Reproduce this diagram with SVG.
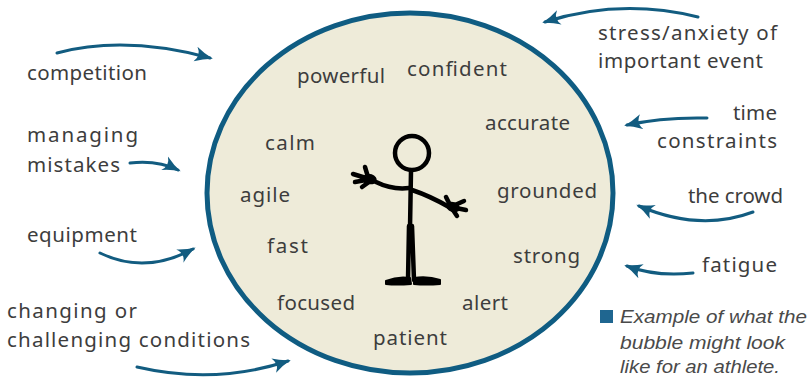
<svg xmlns="http://www.w3.org/2000/svg" width="811" height="377" viewBox="0 0 811 377">
<defs>
<marker id="ah" viewBox="0 0 12 10" refX="10" refY="5" markerWidth="6" markerHeight="5.5" orient="auto" markerUnits="strokeWidth">
<path d="M0,0 Q6,3.5 12,5 Q6,6.5 0,10 Q4,5 0,0 z" fill="#125C80"/>
</marker>
<style>
.hw{font-family:"Noto Sans","Liberation Sans",sans-serif;font-size:20.5px;fill:#3d3d3d}
.cap{font-family:"Liberation Sans",Arial,sans-serif;font-style:italic;font-size:19px;fill:#4a4a4a}
.arr{fill:none;stroke:#125C80;stroke-width:3;stroke-linecap:round;marker-end:url(#ah)}
.fig{fill:none;stroke:#000;stroke-width:4.5;stroke-linecap:round;stroke-linejoin:round}
</style>
</defs>
<rect width="811" height="377" fill="#fff"/>
<g id="bubble">
<ellipse cx="410" cy="193" rx="203" ry="180" fill="#EEEBD9" stroke="#0F5C82" stroke-width="5"/>
<text class="hw" x="297" y="83" textLength="88" lengthAdjust="spacing">powerful</text>
<text class="hw" x="407" y="76" textLength="100" lengthAdjust="spacing">confident</text>
<text class="hw" x="485" y="130" textLength="85" lengthAdjust="spacing">accurate</text>
<text class="hw" x="265" y="150" textLength="50" lengthAdjust="spacing">calm</text>
<text class="hw" x="240" y="202" textLength="50" lengthAdjust="spacing">agile</text>
<text class="hw" x="497" y="198" textLength="100" lengthAdjust="spacing">grounded</text>
<text class="hw" x="267" y="253" textLength="41" lengthAdjust="spacing">fast</text>
<text class="hw" x="513" y="263" textLength="67" lengthAdjust="spacing">strong</text>
<text class="hw" x="277" y="310" textLength="78" lengthAdjust="spacing">focused</text>
<text class="hw" x="462" y="310" textLength="46" lengthAdjust="spacing">alert</text>
<text class="hw" x="373" y="345" textLength="74" lengthAdjust="spacing">patient</text>
</g>
<g id="figure">
<circle cx="412" cy="153" r="17" class="fig"/>
<path class="fig" d="M411,171 L410,228"/>
<path class="fig" d="M409,226 L408,280 M412,226 L414,280"/>
<path d="M386,281 Q398,276 410,278 L411,284 Q396,285 386,284 z" fill="#000" stroke="#000" stroke-width="2" stroke-linejoin="round"/>
<path d="M414,278 Q428,276 440,280 L440,284 Q426,285 414,284 z" fill="#000" stroke="#000" stroke-width="2" stroke-linejoin="round"/>
<path class="fig" d="M409,188 Q392,190 376,182"/>
<path class="fig" d="M412,190 Q430,196 449,207"/>
<ellipse cx="370" cy="179" rx="7" ry="5" transform="rotate(20 370 179)" fill="#000"/>
<ellipse cx="453" cy="207" rx="7" ry="5" transform="rotate(20 453 207)" fill="#000"/>
<g class="fig" stroke-width="3.5">
<path d="M368,177 L365,167 M366,178 L353,174 M366,180 L355,182 M369,182 L362,187"/>
<path d="M450,205 L446,197 M455,205 L464,201 M456,208 L466,210 M453,210 L457,216"/>
</g>
</g>
<g id="labels">
<text class="hw" x="27" y="80" textLength="120" lengthAdjust="spacing">competition</text>
<text class="hw" x="27" y="142" textLength="111" lengthAdjust="spacing">managing</text>
<text class="hw" x="27" y="172" textLength="93" lengthAdjust="spacing">mistakes</text>
<text class="hw" x="27" y="242" textLength="110" lengthAdjust="spacing">equipment</text>
<text class="hw" x="7" y="318" textLength="130" lengthAdjust="spacing">changing or</text>
<text class="hw" x="7" y="347" textLength="243" lengthAdjust="spacing">challenging conditions</text>
<text class="hw" x="598" y="40" textLength="179" lengthAdjust="spacing">stress/anxiety of</text>
<text class="hw" x="598" y="68" textLength="165" lengthAdjust="spacing">important event</text>
<text class="hw" x="733" y="120" textLength="44" lengthAdjust="spacing">time</text>
<text class="hw" x="657" y="148" textLength="120" lengthAdjust="spacing">constraints</text>
<text class="hw" x="688" y="203" textLength="95" lengthAdjust="spacing">the crowd</text>
<text class="hw" x="702" y="272" textLength="75" lengthAdjust="spacing">fatigue</text>
</g>
<g id="connectors">
<path class="arr" d="M57,53 Q125,35 210,58"/>
<path class="arr" d="M130,163 Q158,160 178,170"/>
<path class="arr" d="M100,253 Q145,275 193,249"/>
<path class="arr" d="M137,367 Q215,385 288,361"/>
<path class="arr" d="M698,17 Q620,-2 545,22"/>
<path class="arr" d="M707,118 Q662,117 627,125"/>
<path class="arr" d="M753,212 Q700,232 639,206"/>
<path class="arr" d="M693,273 Q656,277 627,266"/>
</g>
<g id="caption">
<rect x="600" y="310" width="13" height="13" fill="#1F6690"/>
<text class="cap" x="620" y="323" textLength="187" lengthAdjust="spacingAndGlyphs">Example of what the</text>
<text class="cap" x="620" y="349" textLength="165" lengthAdjust="spacingAndGlyphs">bubble might look</text>
<text class="cap" x="620" y="373" textLength="160" lengthAdjust="spacingAndGlyphs">like for an athlete.</text>
</g>
</svg>
